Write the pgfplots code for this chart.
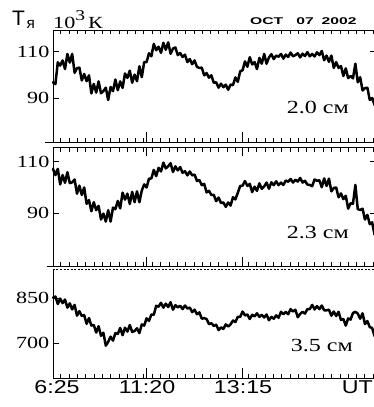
\documentclass[border=0pt]{standalone}
\usepackage{fontspec}
\setmainfont{Liberation Serif}[FakeStretch=1.3]
\newfontfamily\sanswide{Liberation Sans}[FakeStretch=1.25]
\newfontfamily\sansplain{Liberation Sans}
\newfontfamily\datefont{Liberation Sans}[FakeStretch=1.6]
\usepackage{pgfplots}
\pgfplotsset{compat=1.18}

\pgfplotsset{
  panel/.style={
    scale only axis, width=323pt, xmin=0, xmax=33.65,
    axis line style={line width=0.8pt, black},
    tick style={line width=0.8pt, black},
    tick align=inside,
    major tick length=6.5pt, minor tick length=4pt,
    major x tick style={draw=none},
    xtick={9.76,19.72}, xticklabels={,,},
    minor xtick={0.80,1.67,2.54,3.41,4.27,5.14,6.01,6.88,7.74,8.61,9.41,10.34,11.21,12.08,12.94,13.81,14.68,15.55,16.42,17.28,18.15,19.02,20.34,21.21,22.08,22.94,23.81,24.68,25.55,26.42,27.28,28.15,29.02,29.89,30.76,31.62,32.49,33.36},
    /pgf/number format/assume math mode=true,
    yticklabel style={font=\fontsize{17}{17}\selectfont, inner sep=0pt, xshift=-3.5pt},
    clip=false,
  },
  trace/.style={black, line width=2.5pt, line join=round, line cap=round, mark=none},
}
\tikzset{
  wl/.style={font=\fontsize{18.5}{18.5}\selectfont, inner sep=0pt},
  tl/.style={font=\sanswide\fontsize{18.6}{18.6}\selectfont, inner sep=0pt, anchor=north, yshift=-1.7pt},
}

\begin{document}
\begin{tikzpicture}

% ---- 2.0 cm ----
\begin{axis}[panel, at={(53pt,-30pt)}, anchor=north west, height=112.3pt,
  ymin=71, ymax=119.3, ytick={90,110}]
\addplot[trace] coordinates {(0,96.8)(0.25,96.0)(0.5,105.4)(0.75,104.0)(1,106.2)(1.25,102.5)(1.5,109.0)(1.75,105.3)(2,109.0)(2.25,100.9)(2.5,102.9)(2.75,103.1)(3,97.6)(3.25,100.4)(3.5,97.3)(3.75,99.8)(4,92.0)(4.25,96.1)(4.5,92.4)(4.75,97.2)(5,92.1)(5.25,93.0)(5.5,94.5)(5.75,89.2)(6,94.8)(6.25,93.0)(6.5,98.0)(6.75,93.4)(7,97.2)(7.25,94.4)(7.5,100.6)(7.75,98.7)(8,101.8)(8.25,96.6)(8.5,100.1)(8.75,97.3)(9,103.7)(9.25,99.0)(9.5,105.5)(9.75,105.5)(10,109.3)(10.25,108.0)(10.5,113.3)(10.75,110.6)(11,112.1)(11.25,109.5)(11.5,113.8)(11.75,110.8)(12,114.0)(12.25,109.1)(12.5,111.3)(12.75,111.8)(13,108.5)(13.25,109.4)(13.5,107.7)(13.75,108.7)(14,105.5)(14.25,106.8)(14.5,104.6)(14.75,106.2)(15,103.4)(15.25,103.0)(15.5,103.1)(15.75,99.8)(16,100.8)(16.25,98.8)(16.5,99.8)(16.75,96.6)(17,96.8)(17.25,94.5)(17.5,96.2)(17.75,94.7)(18,95.8)(18.25,93.6)(18.5,95.8)(18.75,95.6)(19,98.9)(19.25,97.0)(19.5,101.5)(19.75,102.0)(20,105.8)(20.25,103.5)(20.5,107.6)(20.75,104.5)(21,105.5)(21.25,102.5)(21.5,107.3)(21.75,104.8)(22,109.0)(22.25,104.8)(22.5,107.5)(22.75,108.9)(23,106.8)(23.25,108.3)(23.5,107.8)(23.75,109.0)(24,107.0)(24.25,108.7)(24.5,107.7)(24.75,109.6)(25,108.0)(25.25,108.5)(25.5,109.3)(25.75,107.5)(26,109.1)(26.25,108.1)(26.5,109.8)(26.75,108.0)(27,109.0)(27.25,107.9)(27.5,109.7)(27.75,108.5)(28,110.3)(28.25,106.3)(28.5,108.3)(28.75,105.6)(29,108.3)(29.25,103.0)(29.5,105.5)(29.75,103.0)(30,103.8)(30.25,99.5)(30.5,102.8)(30.75,98.6)(31,99.5)(31.25,98.5)(31.5,104.8)(31.75,96.8)(32,99.0)(32.25,93.3)(32.5,94.3)(32.75,94.5)(33,89.3)(33.25,90.0)(33.5,87.0)};
\node[wl] at (axis cs:27.6,85.8) {2.0 см};
\draw[line width=0.8pt] (axis cs:9.76,71) -- ++(0pt,10pt);
\draw[line width=0.8pt] (axis cs:19.72,71) -- ++(0pt,10pt);
\draw[line width=0.8pt] (rel axis cs:-0.025,0) -- (rel axis cs:0,0);
\end{axis}

% ---- 2.3 cm ----
\begin{axis}[panel, at={(53pt,-147.7pt)}, anchor=north west, height=118.3pt,
  ymin=69.6, ymax=115.4, ytick={90,110}]
\addplot[trace] coordinates {(0,107.2)(0.25,104.8)(0.5,107.2)(0.75,101.2)(1,104.8)(1.25,101.8)(1.5,105.9)(1.75,101.7)(2,102.0)(2.25,103.1)(2.5,97.6)(2.75,100.7)(3,97.1)(3.25,100.0)(3.5,93.7)(3.75,95.1)(4,90.8)(4.25,94.3)(4.5,91.2)(4.75,92.9)(5,87.6)(5.25,89.9)(5.5,86.8)(5.75,91.2)(6,86.8)(6.25,92.2)(6.5,91.6)(6.75,94.8)(7,91.9)(7.25,98.0)(7.5,95.3)(7.75,97.6)(8,93.6)(8.25,98.3)(8.5,94.3)(8.75,98.5)(9,94.3)(9.25,98.8)(9.5,101.2)(9.75,100.0)(10,103.4)(10.25,103.5)(10.5,106.8)(10.75,104.4)(11,107.6)(11.25,106.2)(11.5,109.6)(11.75,107.4)(12,108.2)(12.25,109.4)(12.5,106.0)(12.75,108.2)(13,106.6)(13.25,107.9)(13.5,105.7)(13.75,106.3)(14,104.7)(14.25,106.2)(14.5,104.7)(14.75,105.0)(15,102.5)(15.25,102.9)(15.5,100.9)(15.75,101.4)(16,98.1)(16.25,98.7)(16.5,97.1)(16.75,97.1)(17,94.7)(17.25,96.1)(17.5,94.0)(17.75,94.2)(18,92.5)(18.25,94.2)(18.5,93.0)(18.75,96.2)(19,95.4)(19.25,97.9)(19.5,100.6)(19.75,100.7)(20,102.5)(20.25,100.6)(20.5,101.4)(20.75,98.2)(21,100.3)(21.25,98.7)(21.5,101.6)(21.75,99.5)(22,100.4)(22.25,101.9)(22.5,99.5)(22.75,102.0)(23,100.9)(23.25,102.4)(23.5,100.9)(23.75,101.9)(24,101.0)(24.25,102.7)(24.5,102.2)(24.75,103.3)(25,101.9)(25.25,103.0)(25.5,102.3)(25.75,103.7)(26,101.9)(26.25,102.6)(26.5,101.1)(26.75,101.0)(27,100.5)(27.25,103.1)(27.5,102.6)(27.75,102.8)(28,100.1)(28.25,103.5)(28.5,100.6)(28.75,103.4)(29,98.5)(29.25,99.8)(29.5,100.0)(29.75,96.2)(30,97.7)(30.25,95.5)(30.5,96.8)(30.75,91.8)(31,93.9)(31.25,93.7)(31.5,101.0)(31.75,91.6)(32,91.3)(32.25,91.8)(32.5,87.6)(32.75,89.4)(33,85.8)(33.25,86.5)(33.5,81.7)};
\node[wl] at (axis cs:27.6,82.4) {2.3 см};
\draw[line width=0.8pt] (axis cs:9.76,115.4) -- ++(0pt,-8pt);
\draw[line width=0.8pt] (axis cs:19.72,115.4) -- ++(0pt,-8pt);
\draw[line width=0.8pt] (axis cs:9.76,69.6) -- ++(0pt,9pt);
\draw[line width=0.8pt] (axis cs:19.72,69.6) -- ++(0pt,9pt);
\draw[line width=0.8pt] (rel axis cs:-0.02,0) -- (rel axis cs:0,0);
\end{axis}

% ---- 3.5 cm ----
\begin{axis}[panel, at={(53pt,-269.3pt)}, anchor=north west, height=109pt,
  axis x line*=bottom, axis y line*=left,
  ymin=583.3, ymax=946.7, ytick={700,850}]
\addplot[trace] coordinates {(0,852)(0.25,856)(0.5,831)(0.75,849)(1,834)(1.25,846)(1.5,819)(1.75,833)(2,813)(2.25,828)(2.5,792)(2.75,807)(3,791)(3.25,794)(3.5,765)(3.75,784)(4,759)(4.25,761)(4.5,736)(4.75,757)(5,725)(5.25,735)(5.5,692)(5.75,705)(6,722)(6.25,709)(6.5,734)(6.75,731)(7,751)(7.25,727)(7.5,752)(7.75,739)(8,761)(8.25,738)(8.5,741)(8.75,750)(9,734)(9.25,763)(9.5,759)(9.75,783)(10,775)(10.25,796)(10.5,795)(10.75,825)(11,822)(11.25,835)(11.5,819)(11.75,832)(12,821)(12.25,837)(12.5,812)(12.75,827)(13,820)(13.25,825)(13.5,814)(13.75,826)(14,816)(14.25,819)(14.5,804)(14.75,812)(15,797)(15.25,803)(15.5,782)(15.75,784)(16,781)(16.25,764)(16.5,767)(16.75,758)(17,762)(17.25,744)(17.5,753)(17.75,748)(18,763)(18.25,756)(18.5,763)(18.75,776)(19,771)(19.25,788)(19.5,788)(19.75,806)(20,793)(20.25,796)(20.5,781)(20.75,795)(21,790)(21.25,800)(21.5,788)(21.75,795)(22,786)(22.25,796)(22.5,777)(22.75,788)(23,782)(23.25,793)(23.5,785)(23.75,805)(24,797)(24.25,805)(24.5,797)(24.75,814)(25,806)(25.25,812)(25.5,787)(25.75,798)(26,805)(26.25,799)(26.5,814)(26.75,814)(27,828)(27.25,813)(27.5,824)(27.75,814)(28,826)(28.25,810)(28.5,810)(28.75,812)(29,792)(29.25,806)(29.5,791)(29.75,805)(30,778)(30.25,781)(30.5,759)(30.75,783)(31,779)(31.25,801)(31.5,805)(31.75,799)(32,782)(32.25,800)(32.5,764)(32.75,774)(33,754)(33.25,751)(33.5,724)};
\node[wl] at (axis cs:28.0,694) {3.5 см};
\draw[line width=0.8pt] (axis cs:9.76,583.3) -- ++(0pt,10pt);
\draw[line width=0.8pt] (axis cs:19.72,583.3) -- ++(0pt,10pt);
\draw[line width=0.6pt, dash pattern=on 2pt off 1.5pt] (rel axis cs:0,1) -- (rel axis cs:1,1);
% time labels under the bottom axis
\node[tl] at (axis cs:0.42,583.3) {6:25};
\node[tl] at (axis cs:9.8,583.3) {11:20};
\node[tl] at (axis cs:19.8,583.3) {13:15};
\node[tl] at (axis cs:31.7,583.3) {UT};
\end{axis}

% ---- heading ----
\node[anchor=base west, inner sep=0pt] at (12pt,-25pt) {\sansplain\fontsize{21}{21}\selectfont Т};
\node[anchor=base west, inner sep=0pt] at (26.5pt,-28pt) {\sansplain\fontsize{15.4}{15.4}\selectfont я};
\node[anchor=base west, inner sep=0pt] at (53pt,-28pt) {\fontsize{17}{17}\selectfont 10\raisebox{8pt}{\fontsize{15}{15}\selectfont 3}\hspace{3pt}К};
\node[anchor=base west, inner sep=0pt] at (250pt,-24pt) {\datefont\bfseries\fontsize{9.8}{9.8}\selectfont OCT\hspace{13pt}07\hspace{8pt}2002};

\pgfresetboundingbox
\path[use as bounding box] (0pt,0pt) rectangle (373pt,-407pt);
\end{tikzpicture}
\end{document}
